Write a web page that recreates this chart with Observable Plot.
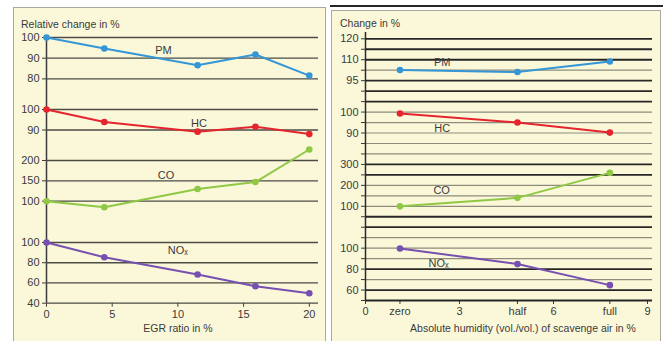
<!DOCTYPE html>
<html><head><meta charset="utf-8">
<script src="https://cdn.jsdelivr.net/npm/d3@7"></script>
<script src="https://cdn.jsdelivr.net/npm/@observablehq/plot@0.6"></script>
<style>
body{margin:0;background:#fff;font-family:"Liberation Sans",Arial,sans-serif;}
#page{position:relative;width:663px;height:341px;overflow:hidden;}
.panel{position:absolute;background:#fbf8da;border:1.5px solid #a8a8a0;box-sizing:border-box;}
.abs{position:absolute;}
.txt{position:absolute;font-size:10.5px;color:#3a3a3a;white-space:nowrap;line-height:12px;}
</style></head><body><div id="page"></div>
<script>
// ---------- data ----------
const egrRatio = [0, 4.4, 11.5, 15.9, 20];
const egrPM  = [100, 94.7, 86.6, 91.8, 81.6];
const egrHC  = [100, 93.9, 89.2, 91.6, 88.0];
const egrCO  = [100, 85, 130, 147, 227];
const egrNOx = [100, 85.4, 68.3, 56.7, 49.8];

const humidityLevels = ["zero", "half", "full"];
const humidityValue  = [1.1, 4.85, 7.8];
const humPM  = [102.5, 101, 108.6];
const humHC  = [99.5, 95.2, 90.4];
const humCO  = [100, 140.7, 260];
const humNOx = [100, 85.1, 65.0];

const seriesNames = ["PM", "HC", "CO", "NOₓ"];
const leftTicks  = [[80, 90, 100], [90, 100], [100, 150, 200], [40, 60, 80, 100]];
const rightTicks = [[95, 110], [90, 100], [100, 200, 300], [60, 80, 100]];
const rightPMTopTick = [120];
const egrTicks = [0, 5, 10, 15, 20];
const humTicks = [0, 3, 6, 9];
// ruled lines of the right panel, bottom (x axis) to top
const rulings = ["dark","dark","light","dark","light","light","light","dark","dark","light","light","light","dark",
                 "dark","light","light","light","light","light","dark","dark","dark","light","dark","dark","dark"];

// ---------- layout / style ----------
const colors = ["#3596d6", "#e4252d", "#8fc844", "#7650b0"];
const page = document.getElementById("page");
const font = '"Liberation Sans", Arial, sans-serif';
const svgStyle = {background: "none", overflow: "visible", fontFamily: font, fontSize: "11px", color: "#3a3a3a"};

function div(cls, left, top, w, h, extra) {
  const d = document.createElement("div");
  d.className = cls; d.style.left = left + "px"; d.style.top = top + "px";
  if (w != null) d.style.width = w + "px";
  if (h != null) d.style.height = h + "px";
  Object.assign(d.style, extra || {});
  page.appendChild(d); return d;
}
function place(node, left, top) { const w = div("abs", left, top); w.appendChild(node); }
function text(str, left, top, extra) { const d = div("txt", left, top, null, null, extra); d.textContent = str; return d; }

// panels
div("panel", 13, 7, 313, 340);
div("panel", 331, 10, 330, 336);
div("abs", 330, 5, 333, 1.6, {background: "#262626"});

function subPanel(o) {
  const top = Math.min(...o.yRange) - 15;
  const height = Math.max(...o.yRange) - top + 15;
  const marks = [];
  if (o.grid) marks.push(Plot.ruleY(o.ticks, {stroke: "#4c4b44", strokeWidth: 1.3}));
  if (o.xs) {
    marks.push(Plot.line(o.xs, {x: o.xs, y: o.ys, stroke: o.color, strokeWidth: 2}));
    marks.push(Plot.dot(o.xs, {x: o.xs, y: o.ys, fill: o.color, r: 3.3}));
    marks.push(Plot.text([o.label], {x: () => o.labelAt[0], y: () => o.labelAt[1], text: d => d, fill: "#3a3a3a", fontSize: 11}));
  }
  const p = Plot.plot({
    width: o.width, height,
    marginLeft: o.xRange[0], marginRight: o.width - o.xRange[1], marginTop: 15, marginBottom: 15,
    x: {domain: o.xDomain, range: o.xRange, axis: null},
    y: {domain: o.yDomain, range: o.yRange.map(v => v - top), ticks: o.ticks, tickSize: o.tickSize,
        tickPadding: o.tickPadding, label: null},
    style: svgStyle,
    marks
  });
  place(p, o.left, top);
}

// ---------- left chart (EGR ratio) ----------
const L = {left: 0, width: 330, xDomain: [0, 20.7], xRange: [46, 318]};
const leftY = [
  {domain: [80, 100], range: [78.7, 37.3]},
  {domain: [90, 100], range: [129, 108.5]},
  {domain: [100, 200], range: [200.7, 160]},
  {domain: [40, 100], range: [302.7, 242]}
];
const leftVals = [egrPM, egrHC, egrCO, egrNOx];
const leftLabelAt = [[8.9, 93.9], [11.6, 93.4], [9.1, 163], [10.0, 92.2]];

place(Plot.plot({
  width: 330, height: 341, marginLeft: 46, marginRight: 12, marginTop: 37, marginBottom: 341 - 302.7,
  x: {domain: L.xDomain, range: L.xRange, ticks: egrTicks, tickSize: 4, tickPadding: 3, label: null},
  y: {domain: [0, 1], axis: null},
  style: svgStyle,
  marks: [Plot.ruleX([0], {stroke: "#3a3a3a", strokeWidth: 1.5})]
}), 0, 0);

leftVals.forEach((ys, i) => subPanel({
  ...L, xs: egrRatio, ys, yDomain: leftY[i].domain, yRange: leftY[i].range,
  ticks: leftTicks[i], grid: true, tickSize: 4, tickPadding: 3,
  color: colors[i], label: seriesNames[i], labelAt: leftLabelAt[i]
}));

// ---------- right chart (humidity) ----------
const R = {left: 330, width: 333, xDomain: [0, 9.16], xRange: [35, 322]};
const lineY = i => 300 - i * 10.468; // page y of ruled line i
const rightY = [
  {domain: [95, 110], lines: [21, 23]},
  {domain: [90, 100], lines: [16, 18]},
  {domain: [100, 300], lines: [9, 13]},
  {domain: [60, 100], lines: [1, 5]}
];
const rightVals = [humPM, humHC, humCO, humNOx];
const rightLabelAt = [[2.45, 107.8], [2.45, 92.5], [2.43, 175], [2.33, 85.6]];

const humAllTicks = [...humTicks, ...humidityValue].sort((a, b) => a - b);
const idx = rulings.map((d, i) => i);
place(Plot.plot({
  width: 333, height: 341, marginLeft: 35, marginRight: 11, marginTop: 32, marginBottom: 41,
  x: {domain: R.xDomain, range: R.xRange, ticks: humAllTicks, tickSize: 4, tickPadding: 3, label: null,
      tickFormat: d => { const k = humidityValue.indexOf(d); return k >= 0 ? humidityLevels[k] : String(d); }},
  y: {domain: [0, 25], range: [lineY(0), lineY(25)], ticks: idx, tickFormat: () => "", tickSize: 4, label: null},
  style: svgStyle,
  marks: [
    Plot.ruleY(idx.filter(i => rulings[i] === "light"), {stroke: "#8e8b7d", strokeWidth: 1.2}),
    Plot.ruleY(idx.filter(i => rulings[i] === "dark"), {stroke: "#262626", strokeWidth: 1.8}),
    Plot.ruleX([0], {stroke: "#2a2a2a", strokeWidth: 1.5})
  ]
}), 330, 0);

// upper segment of the PM axis (110–120)
subPanel({...R, yDomain: [110, 120], yRange: [lineY(23), lineY(25)], ticks: rightPMTopTick,
  grid: false, tickSize: 0, tickPadding: 7});

rightVals.forEach((ys, i) => subPanel({
  ...R, xs: humidityValue, ys, yDomain: rightY[i].domain, yRange: rightY[i].lines.map(lineY),
  ticks: rightTicks[i], grid: false, tickSize: 0, tickPadding: 7,
  color: colors[i], label: seriesNames[i], labelAt: rightLabelAt[i]
}));

// ---------- titles ----------
text("Relative change in %", 21, 18);
text("Change in %", 340, 17);
text("EGR ratio in %", 128, 322, {width: "100px", textAlign: "center"});
text("Absolute humidity (vol./vol.) of scavenge air in %", 373, 322, {width: "300px", textAlign: "center"});
</script></body></html>
